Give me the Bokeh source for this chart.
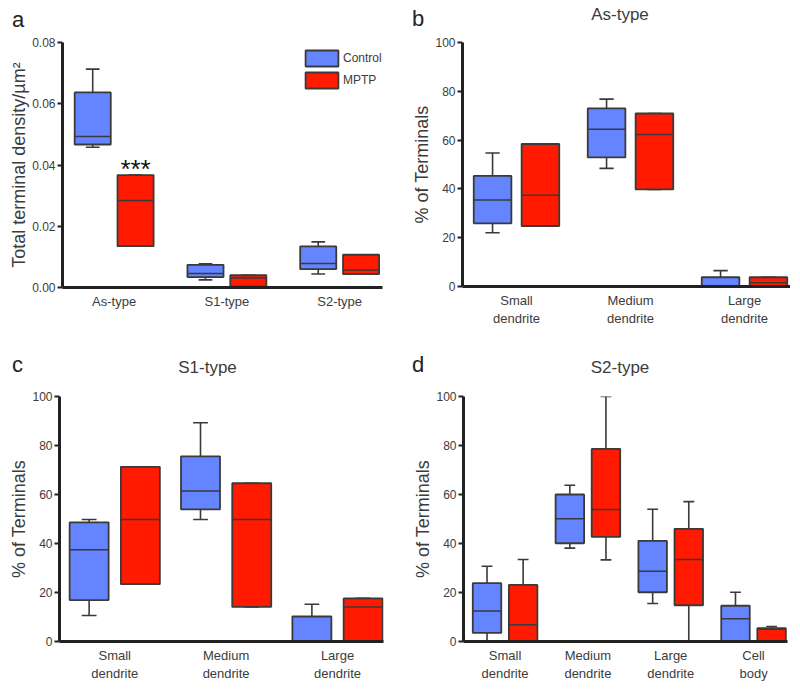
from bokeh.plotting import figure
from bokeh.layouts import row, column
from bokeh.models import (Range1d, FixedTicker, NumeralTickFormatter, Legend, LegendItem,
                          Div, ColumnDataSource)
from bokeh.core.properties import value
from bokeh.embed import file_html
from bokeh.resources import INLINE

# ---------------- data ----------------
groups = ["Control", "MPTP"]

# Panel a: total terminal density / um^2
a_cats = ["As-type", "S1-type", "S2-type"]
a_ctrl_min = [0.0458, 0.0025, 0.0044]
a_ctrl_q1 = [0.0467, 0.0034, 0.0060]
a_ctrl_med = [0.0493, 0.0046, 0.0078]
a_ctrl_q3 = [0.0637, 0.0074, 0.0134]
a_ctrl_max = [0.0713, 0.0077, 0.0149]
a_mptp_min = [0.0135, 0.0003, 0.0044]
a_mptp_q1 = [0.0135, 0.0003, 0.0044]
a_mptp_med = [0.0284, 0.0031, 0.0057]
a_mptp_q3 = [0.0367, 0.0040, 0.0107]
a_mptp_max = [0.0367, 0.0040, 0.0107]
a_yticks = [0.0, 0.02, 0.04, 0.06, 0.08]
a_signif = "***"

# Panel b: As-type, % of terminals
b_cats = ["Small\ndendrite", "Medium\ndendrite", "Large\ndendrite"]
b_ctrl_min = [22.0, 48.4, 0.0]
b_ctrl_q1 = [25.9, 52.9, 0.0]
b_ctrl_med = [35.5, 64.4, 0.0]
b_ctrl_q3 = [45.3, 73.0, 3.8]
b_ctrl_max = [54.7, 76.8, 6.5]
b_mptp_min = [24.8, 39.8, 0.0]
b_mptp_q1 = [24.8, 39.8, 0.0]
b_mptp_med = [37.4, 62.3, 1.5]
b_mptp_q3 = [58.4, 70.9, 3.8]
b_mptp_max = [58.4, 70.9, 3.8]

# Panel c: S1-type
c_cats = ["Small\ndendrite", "Medium\ndendrite", "Large\ndendrite"]
c_ctrl_min = [10.6, 49.8, 0.0]
c_ctrl_q1 = [16.9, 53.9, 0.0]
c_ctrl_med = [37.4, 61.4, 0.0]
c_ctrl_q3 = [48.6, 75.6, 10.2]
c_ctrl_max = [49.8, 89.3, 15.2]
c_mptp_min = [23.4, 14.1, 0.0]
c_mptp_q1 = [23.4, 14.1, 0.0]
c_mptp_med = [49.8, 49.8, 14.1]
c_mptp_q3 = [71.3, 64.6, 17.6]
c_mptp_max = [71.3, 64.6, 17.6]

# Panel d: S2-type
d_cats = ["Small\ndendrite", "Medium\ndendrite", "Large\ndendrite", "Cell\nbody"]
d_ctrl_min = [0.0, 38.1, 15.5, 0.0]
d_ctrl_q1 = [3.5, 40.1, 20.1, 0.0]
d_ctrl_med = [12.5, 50.1, 28.7, 9.3]
d_ctrl_q3 = [23.8, 60.0, 41.1, 14.6]
d_ctrl_max = [30.7, 63.8, 54.0, 20.1]
d_mptp_min = [0.0, 33.3, 0.0, 0.0]
d_mptp_q1 = [0.0, 42.7, 14.8, 0.0]
d_mptp_med = [6.8, 53.9, 33.5, 5.0]
d_mptp_q3 = [23.1, 78.6, 46.0, 5.4]
d_mptp_max = [33.5, 100.0, 57.1, 6.1]

pct_yticks = [0, 20, 40, 60, 80, 100]

panel_letters = ["a", "b", "c", "d"]
panel_titles = ["", "As-type", "S1-type", "S2-type"]

# ---------------- style ----------------
BLUE = "#6485FF"
RED = "#FF1A00"
EDGE = "#3a3a3a"
AXIS = "#222222"
TXT = "#3c3c3c"
FONT = "Liberation Sans"


def make_panel(cats, ctrl, mptp, x0, x1, ymax, yticks, fmt, ylabel,
               frame_w, frame_h, bl, br, bt, bb, box_w, off):
    p = figure(frame_width=frame_w, frame_height=frame_h,
               x_range=Range1d(x0, x1), y_range=Range1d(0, ymax),
               output_backend="svg", toolbar_location=None,
               min_border_left=bl, min_border_right=br, min_border_top=bt, min_border_bottom=bb)
    p.outline_line_color = None
    p.xgrid.visible = False
    p.ygrid.visible = False

    idx = list(range(len(cats)))
    rends = []
    for k, (stats, color) in enumerate([(ctrl, BLUE), (mptp, RED)]):
        mn, q1, med, q3, mx = stats
        xs = [i + (-off if k == 0 else off) for i in idx]
        cap = box_w * 0.19
        src = ColumnDataSource(dict(x=xs, mn=mn, q1=q1, med=med, q3=q3, mx=mx,
                                    xl=[x - box_w / 2 for x in xs], xr=[x + box_w / 2 for x in xs],
                                    cl=[x - cap for x in xs], cr=[x + cap for x in xs]))
        p.segment(x0="x", y0="q3", x1="x", y1="mx", source=src, line_color=EDGE, line_width=1.6)
        p.segment(x0="x", y0="mn", x1="x", y1="q1", source=src, line_color=EDGE, line_width=1.6)
        p.segment(x0="cl", y0="mx", x1="cr", y1="mx", source=src, line_color=EDGE, line_width=1.6)
        p.segment(x0="cl", y0="mn", x1="cr", y1="mn", source=src, line_color=EDGE, line_width=1.6)
        r = p.vbar(x="x", width=box_w, bottom="q1", top="q3", source=src,
                   fill_color=color, line_color=EDGE, line_width=1.8)
        p.segment(x0="xl", y0="med", x1="xr", y1="med", source=src, line_color=EDGE, line_width=1.5)
        rends.append(r)

    p.xaxis.ticker = FixedTicker(ticks=idx)
    p.xaxis.major_label_overrides = {i: c for i, c in zip(idx, cats)}
    p.xaxis.major_tick_out = 0
    p.xaxis.major_tick_in = 0
    p.xaxis.minor_tick_line_color = None
    p.xaxis.axis_line_width = 3
    p.xaxis.axis_line_color = AXIS
    p.xaxis.major_label_text_font = FONT
    p.xaxis.major_label_text_font_size = "13px"
    p.xaxis.major_label_text_color = TXT
    p.xaxis.major_label_standoff = 6

    p.yaxis.ticker = FixedTicker(ticks=yticks)
    p.yaxis.formatter = NumeralTickFormatter(format=fmt)
    p.yaxis.major_tick_out = 5
    p.yaxis.major_tick_in = 0
    p.yaxis.major_tick_line_width = 2
    p.yaxis.major_tick_line_color = AXIS
    p.yaxis.minor_tick_line_color = None
    p.yaxis.axis_line_width = 3
    p.yaxis.axis_line_color = AXIS
    p.yaxis.major_label_text_font = FONT
    p.yaxis.major_label_text_font_size = "12px"
    p.yaxis.major_label_text_color = TXT
    p.yaxis.major_label_standoff = 2
    p.yaxis.axis_label = ylabel
    p.yaxis.axis_label_text_font = FONT
    p.yaxis.axis_label_text_font_style = "normal"
    p.yaxis.axis_label_text_font_size = "18px"
    p.yaxis.axis_label_text_color = TXT
    p.yaxis.axis_label_standoff = 0
    return p, rends


def header(width, height, letter, lx, ltop, title, tcx, ttop):
    spans = (f'<span style="position:absolute;left:{lx}px;top:{ltop}px;font-size:22px;'
             f'line-height:1;color:#222;white-space:nowrap;">{letter}</span>')
    if title:
        spans += (f'<span style="position:absolute;left:{tcx}px;top:{ttop}px;font-size:17px;'
                  f'line-height:1;color:{TXT};white-space:nowrap;transform:translateX(-50%);">{title}</span>')
    html = (f'<div style="position:relative;width:{width}px;height:{height}px;'
            f'font-family:\'{FONT}\',sans-serif;">{spans}</div>')
    return Div(text=html, width=width, height=height, margin=0)


# Panel a
pa, ra = make_panel(a_cats,
                    (a_ctrl_min, a_ctrl_q1, a_ctrl_med, a_ctrl_q3, a_ctrl_max),
                    (a_mptp_min, a_mptp_q1, a_mptp_med, a_mptp_q3, a_mptp_max),
                    -0.458, 2.38, 0.08, a_yticks, "0.00", "Total terminal density/µm²",
                    320, 245, 62, 16, 11, 46, 0.32, 0.19)
pa.text(x=[0 + 0.19], y=[a_mptp_q3[0]], text=[a_signif], text_align="center",
        text_baseline="alphabetic", y_offset=-6, text_font=value(FONT),
        text_font_size="26px", text_color="#111111")
leg = Legend(items=[LegendItem(label=groups[0], renderers=[ra[0]]),
                    LegendItem(label=groups[1], renderers=[ra[1]])],
             location=(239, 197), orientation="vertical", glyph_width=41, glyph_height=20,
             label_height=20, spacing=2, padding=0, margin=0, label_standoff=1,
             label_text_font=FONT, label_text_font_size="12px", label_text_color=TXT,
             border_line_alpha=0, background_fill_alpha=0)
pa.add_layout(leg)

# Panel b
pb, _ = make_panel(b_cats,
                   (b_ctrl_min, b_ctrl_q1, b_ctrl_med, b_ctrl_q3, b_ctrl_max),
                   (b_mptp_min, b_mptp_q1, b_mptp_med, b_mptp_q3, b_mptp_max),
                   -0.4737, 2.4035, 100, pct_yticks, "0", "% of Terminals",
                   328, 244, 64, 0, 12, 46, 0.33, 0.21)

# Panel c
pc, _ = make_panel(c_cats,
                   (c_ctrl_min, c_ctrl_q1, c_ctrl_med, c_ctrl_q3, c_ctrl_max),
                   (c_mptp_min, c_mptp_q1, c_mptp_med, c_mptp_q3, c_mptp_max),
                   -0.496, 2.413, 100, pct_yticks, "0", "% of Terminals",
                   324, 245, 59, 15, 16, 41, 0.35, 0.23)

# Panel d
pd_, _ = make_panel(d_cats,
                    (d_ctrl_min, d_ctrl_q1, d_ctrl_med, d_ctrl_q3, d_ctrl_max),
                    (d_mptp_min, d_mptp_q1, d_mptp_med, d_mptp_q3, d_mptp_max),
                    -0.502, 3.41, 100, pct_yticks, "0", "% of Terminals",
                    324, 245, 65, 3, 16, 41, 0.344, 0.218)

ha = header(398, 30, panel_letters[0], 12, 9.4, panel_titles[0], 0, 0)
hb = header(392, 30, panel_letters[1], 14, 8.4, panel_titles[1], 222, 5.6)
hc = header(398, 48, panel_letters[2], 12, 22.4, panel_titles[2], 207.5, 26.6)
hd = header(392, 48, panel_letters[3], 14, 22.4, panel_titles[3], 222, 26.6)

layout = column(row(ha, hb), row(pa, pb), row(hc, hd), row(pc, pd_))
open("out.html", "w").write(file_html(layout, INLINE))
